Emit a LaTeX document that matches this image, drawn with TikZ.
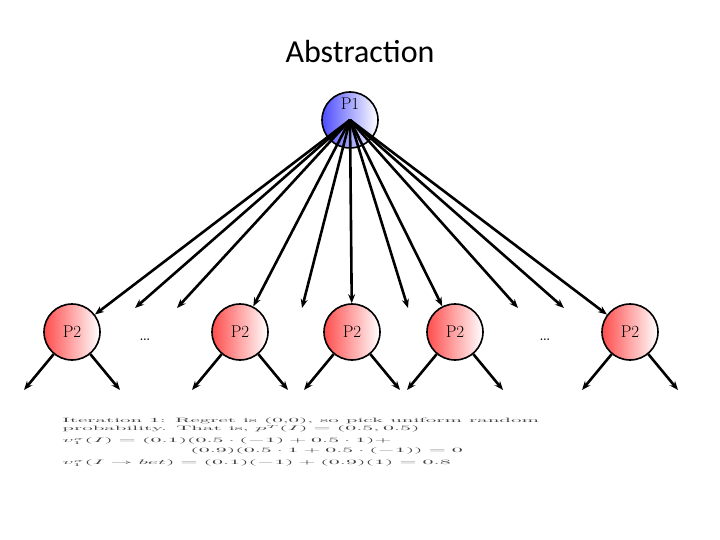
\documentclass[tikz,border=0pt]{standalone}
\usepackage{fontspec}
\newfontfamily\titlefont{Carlito}
\usetikzlibrary{arrows.meta}
\begin{document}
\begin{tikzpicture}[x=1pt,y=-1pt,
  pnode/.style={circle,draw=black,line width=1.6pt,minimum size=56pt,inner sep=0pt,font=\fontsize{17}{17}\selectfont,shading=axis,shading angle=-45,text depth=0pt},
  p1/.style={pnode,left color=blue!70,right color=white},
  p2/.style={pnode,left color=red!70,right color=white},
  arr/.style={-{Stealth[length=9pt,width=7pt]},line width=2.6pt},
  note/.style={anchor=west,font=\fontsize{10.5}{10.5}\selectfont,text=black!75,inner sep=0pt,xscale=2,yscale=0.6,transform shape}]
\useasboundingbox (0,0) rectangle (720,540);
\node[font=\titlefont\fontsize{32}{32}\selectfont] (title) at (360,52) {Abstraction};
\node[p1] (p1) at (350,120) {};
\coordinate (hub) at (350,120);
\node[p2] (a) at (72,332) {P2};
\node[p2] (b) at (240,332) {P2};
\node[p2] (c) at (352,332) {P2};
\node[p2] (d) at (455,332) {P2};
\node[p2] (e) at (630,332) {P2};
\node[font=\fontsize{20}{20}\selectfont] (dl) at (145,340) {\dots};
\node[font=\fontsize{20}{20}\selectfont] (dr) at (545,340) {\dots};
\coordinate (t2) at (135,308);
\coordinate (t3) at (177,308);
\coordinate (t5) at (302,308);
\coordinate (t7) at (408,308);
\coordinate (t9) at (518,308);
\coordinate (t10) at (564,308);
\foreach \t in {a,b,c,d,e}{\draw[arr] (hub) -- (\t);}
\foreach \t in {t2,t3,t5,t7,t9,t10}{\draw[arr] (hub) -- (\t);}
\node[font=\fontsize{17}{17}\selectfont] (p1lab) at (350,104) {P1};
\foreach \n in {a,b,c,d,e}{
  \coordinate (\n l) at ([xshift=-48pt,yshift=-58pt]\n.center);
  \coordinate (\n r) at ([xshift=48pt,yshift=-58pt]\n.center);
  \draw[arr] (\n) -- (\n l);
  \draw[arr] (\n) -- (\n r);
}
\node[note] (n1) at (62,421) {Iteration 1: Regret is (0,0), so pick uniform random};
\node[note] (n2) at (62,429) {probability. That is, $p^{T}(I)=(0.5,0.5)$};
\node[note] (n3) at (62,441) {$v_1^{\sigma}(I)=(0.1)(0.5\cdot(-1)+0.5\cdot1)+$};
\node[note] (n4) at (190,451) {$(0.9)(0.5\cdot1+0.5\cdot(-1))=0$};
\node[note] (n5) at (62,463) {$v_1^{\sigma}(I\rightarrow bet)=(0.1)(-1)+(0.9)(1)=0.8$};
\end{tikzpicture}
\end{document}
